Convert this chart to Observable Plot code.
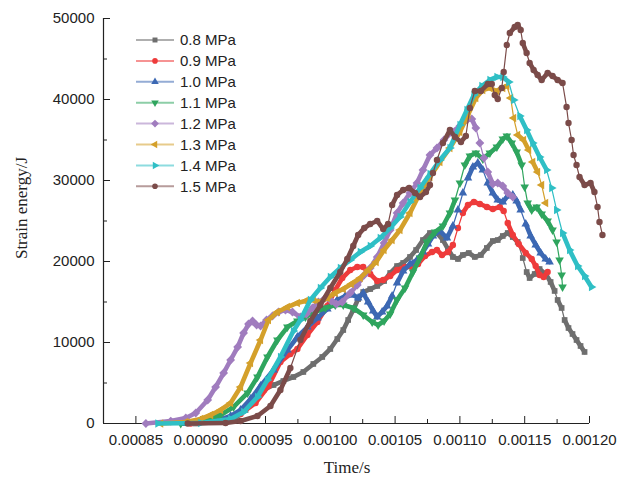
<!DOCTYPE html>
<html><head><meta charset="utf-8">
<script src="https://cdn.jsdelivr.net/npm/d3@7"></script>
<script src="https://cdn.jsdelivr.net/npm/@observablehq/plot@0.6"></script>
<style>
body{margin:0;background:#fff;}
#wrap{position:relative;width:634px;height:477px;}
#overlay{position:absolute;left:0;top:0;pointer-events:none;}
</style></head><body><div id="wrap"></div>
<script>
// ---- data (time in s, strain energy in J) ----
const names = ["0.8 MPa","0.9 MPa","1.0 MPa","1.1 MPa","1.2 MPa","1.3 MPa","1.4 MPa","1.5 MPa"];
const colors = ["#6e6e6e","#ee3b3b","#3c68b3","#2fa55e","#a07cbe","#d4a02b","#2fbfc5","#7b4b49"];
const xTicks = [0.00085,0.0009,0.00095,0.001,0.00105,0.0011,0.00115,0.0012];
const xMinor = [0.000875,0.000925,0.000975,0.001025,0.001075,0.001125,0.001175];
const yTicks = [0,10000,20000,30000,40000,50000];
const yMinor = [5000,15000,25000,35000,45000];

const t08 = [0.0008962,0.0009154,0.0009269,0.0009346,0.0009423,0.0009485,0.0009562,0.0009638,0.0009715,0.0009792,0.0009869,0.0009938,0.001,0.0010054,0.00101,0.0010138,0.0010177,0.0010215,0.0010254,0.0010308,0.0010362,0.0010415,0.0010462,0.0010515,0.0010562,0.0010615,0.0010662,0.0010715,0.0010769,0.0010823,0.0010869,0.0010908,0.0010946,0.0010985,0.0011023,0.0011069,0.0011115,0.0011162,0.0011208,0.0011254,0.0011292,0.0011331,0.0011369,0.0011408,0.0011446,0.0011485,0.0011515,0.0011538,0.0011577,0.0011615,0.0011662,0.00117,0.0011731,0.0011754,0.0011785,0.0011808,0.0011838,0.0011869,0.00119,0.0011931,0.0011962];
const v08 = [0,190,680,1670,3150,4140,4750,5250,5740,6360,7350,8210,9200,10430,11540,12780,14010,15370,16230,16600,16980,17590,18580,19440,19820,20560,21420,22650,23520,23520,22650,21540,20560,20310,20800,21050,20560,20800,21670,22530,22650,23150,23520,23020,22410,20430,18700,17960,18460,19070,18460,17470,16360,15250,14260,12780,11790,11050,10310,9570,8830];

const t09 = [0.0008923,0.0009154,0.0009308,0.0009423,0.0009523,0.0009615,0.0009692,0.0009746,0.0009823,0.00099,0.0009977,0.0010038,0.0010092,0.0010154,0.0010208,0.0010254,0.0010308,0.0010362,0.0010408,0.0010462,0.0010515,0.0010577,0.0010631,0.0010677,0.0010731,0.0010785,0.0010823,0.0010862,0.0010908,0.0010946,0.0010985,0.0011023,0.0011062,0.0011108,0.0011154,0.0011208,0.0011254,0.0011308,0.0011338,0.0011369,0.0011408,0.0011454,0.0011508,0.0011554,0.0011585,0.0011615,0.0011646,0.0011677];
const v09 = [0,300,1170,2530,4630,7590,8580,9200,10930,12530,14510,16480,17960,18950,19320,19320,18460,17590,17720,18210,18950,19320,19320,19690,20680,21170,21420,20800,21170,22040,24140,25990,26980,27350,27100,26730,26480,26730,26230,24750,23270,22160,21050,20310,19440,18330,18090,18700];

const t10 = [0.0008885,0.0009115,0.0009231,0.0009308,0.0009385,0.0009462,0.0009562,0.0009669,0.0009746,0.0009823,0.00099,0.0009977,0.0010054,0.0010115,0.0010177,0.0010215,0.0010254,0.0010292,0.0010331,0.0010362,0.00104,0.0010438,0.0010477,0.0010515,0.0010562,0.0010615,0.0010669,0.0010715,0.0010754,0.0010792,0.0010846,0.00109,0.0010946,0.0010985,0.0011023,0.0011062,0.00111,0.0011138,0.0011177,0.0011215,0.0011254,0.0011292,0.0011331,0.0011369,0.0011408,0.0011438,0.0011469,0.0011508,0.0011546,0.0011585,0.0011623,0.0011662,0.0011692];
const v10 = [0,300,930,1670,3020,4630,6600,9070,10680,11910,13030,14130,15250,15740,15860,15490,16110,15000,13890,13150,13770,14510,15740,17350,18830,19690,20190,21170,22160,23150,23770,22900,24380,26360,28460,30310,31670,32160,31300,29690,28460,27590,27350,28090,28210,27470,26360,24630,23150,22040,21050,20310,19940];

const t11 = [0.0008846,0.0009023,0.0009154,0.0009254,0.0009362,0.0009438,0.0009515,0.0009592,0.0009669,0.0009746,0.0009808,0.0009885,0.0009962,0.0010038,0.00101,0.0010177,0.0010254,0.0010323,0.0010369,0.0010415,0.0010462,0.0010515,0.0010577,0.0010638,0.0010692,0.0010746,0.0010808,0.0010869,0.0010923,0.0010962,0.0011,0.0011038,0.0011077,0.0011123,0.0011177,0.0011231,0.0011285,0.0011331,0.0011362,0.00114,0.0011438,0.0011477,0.00115,0.0011523,0.0011554,0.0011592,0.0011631,0.0011677,0.0011715,0.0011746,0.0011769,0.0011785,0.0011792];
const v11 = [0,430,1050,2040,3770,5740,8210,10310,11910,12650,13150,13770,14260,14630,14630,14260,13400,12530,12160,12650,13520,15250,16730,18700,20430,22410,23640,24380,25990,27590,29690,31910,33030,33400,32650,33400,34130,35120,35490,34630,33520,31910,29200,27220,26360,26730,25870,25000,23890,22410,20190,18330,16850];

const t12 = [0.0008577,0.0008769,0.0008885,0.0008962,0.0009054,0.0009115,0.0009177,0.0009231,0.0009285,0.0009331,0.0009369,0.00094,0.0009431,0.0009462,0.0009508,0.0009554,0.00096,0.0009654,0.0009708,0.0009769,0.0009815,0.0009862,0.0009908,0.0009962,0.0010008,0.0010046,0.0010092,0.0010154,0.0010208,0.0010262,0.0010308,0.0010362,0.0010415,0.0010462,0.0010515,0.0010562,0.0010615,0.0010669,0.0010715,0.0010769,0.0010823,0.0010877,0.0010938,0.0011,0.0011054,0.0011092,0.0011123,0.0011154,0.0011185,0.0011215,0.0011254,0.0011292,0.0011331,0.0011369,0.0011408];
const v12 = [0,300,680,1300,2900,4500,6230,7840,9440,11170,12280,12650,12160,12040,12780,13270,13770,14010,13770,13150,13520,14260,15000,15490,15120,14750,15000,16110,17100,18330,19200,20560,22280,23890,25990,27220,28460,29690,31300,33150,34010,35000,35990,36730,37470,37590,36480,34630,32780,31050,29570,29690,29320,28460,27960];

const t13 = [0.0008692,0.0008885,0.0009,0.0009077,0.0009154,0.0009231,0.0009308,0.0009385,0.0009462,0.0009523,0.0009592,0.0009669,0.0009746,0.0009808,0.0009869,0.0009923,0.0009977,0.0010038,0.00101,0.0010162,0.0010231,0.0010292,0.0010354,0.0010415,0.0010477,0.0010538,0.0010615,0.0010692,0.0010769,0.0010846,0.0010923,0.0011,0.0011062,0.0011123,0.0011177,0.0011231,0.0011285,0.0011331,0.0011362,0.0011392,0.0011415,0.0011446,0.0011492,0.0011531,0.0011562,0.00116,0.0011631,0.0011662];
const v13 = [0,190,560,1050,1670,2530,4510,7470,10310,12780,13770,14380,14880,15120,15250,15000,15490,16110,16600,17220,17960,18950,19940,21420,22650,23890,25990,28460,30430,32290,34010,35990,38080,40180,41170,41420,41050,41420,41670,40180,37710,35620,35000,33770,32290,31050,29440,27220];

const t14 = [0.0008669,0.0009,0.0009231,0.0009331,0.0009438,0.0009515,0.0009615,0.0009715,0.0009769,0.0009846,0.0009923,0.001,0.0010077,0.0010154,0.0010231,0.0010308,0.0010385,0.0010462,0.0010538,0.0010615,0.0010692,0.0010769,0.0010846,0.0010923,0.0011,0.0011054,0.0011108,0.0011169,0.0011231,0.0011285,0.0011331,0.0011377,0.0011415,0.0011462,0.0011515,0.0011562,0.0011615,0.0011669,0.0011708,0.0011746,0.0011792,0.0011846,0.0011908,0.0011962,0.0012015];
const v14 = [0,60,560,1420,3270,5370,8210,11420,12780,15250,16730,18090,19200,20190,21170,21910,22900,24140,25500,27350,29070,30800,32530,34010,36850,38700,40550,41670,42410,42780,42780,42160,39940,37960,36230,34630,32900,31300,29070,26360,23520,21420,19440,18210,16850];

const t15 = [0.00089,0.0009192,0.0009308,0.0009438,0.0009538,0.0009615,0.0009692,0.0009769,0.0009846,0.0009923,0.001,0.0010077,0.0010131,0.0010177,0.0010215,0.0010262,0.0010308,0.0010362,0.0010408,0.0010446,0.0010477,0.0010515,0.0010562,0.0010608,0.0010654,0.0010692,0.0010738,0.0010769,0.0010792,0.0010823,0.0010869,0.0010923,0.0010962,0.0011008,0.0011046,0.0011077,0.0011115,0.0011162,0.0011215,0.0011246,0.0011269,0.0011292,0.0011323,0.0011338,0.0011362,0.0011385,0.0011423,0.0011446,0.0011469,0.0011485,0.0011515,0.0011538,0.0011569,0.00116,0.0011631,0.0011677,0.0011715,0.0011754,0.0011792,0.0011823,0.0011838,0.0011862,0.0011877,0.00119,0.0011923,0.0011962,0.0012008,0.0012038,0.0012062,0.0012077,0.00121];
const v15 = [0,60,300,930,2160,4140,6850,10310,12650,14630,16730,18700,20310,21910,23270,24140,24630,25000,24010,24630,26970,28210,28830,29070,28460,27960,28580,29440,30920,32530,34630,36230,35370,34750,35490,38950,41050,41050,41910,41910,40550,40060,41420,43390,46730,48210,48950,49200,48580,46980,45740,44510,43650,43020,42410,43270,42900,42410,42040,39080,37100,35000,33150,31910,30430,29440,29690,28580,26730,24880,23270];

// ---- marker shapes ----
function triangle(angleDeg){
  return {draw(ctx, size){
    const s = Math.sqrt(4*size/Math.sqrt(3)), R = s/Math.sqrt(3);
    for (let i=0;i<3;i++){ const a=(angleDeg+i*120)*Math.PI/180; const x=R*Math.cos(a), y=R*Math.sin(a); if(i) ctx.lineTo(x,y); else ctx.moveTo(x,y); }
    ctx.closePath();
  }};
}
const diamond = {draw(ctx,size){ const r=Math.sqrt(size/2)*1.1; ctx.moveTo(0,-r); ctx.lineTo(r,0); ctx.lineTo(0,r); ctx.lineTo(-r,0); ctx.closePath(); }};
const symbols = [d3.symbolSquare, d3.symbolCircle, triangle(-90), triangle(90), diamond, triangle(180), triangle(0), d3.symbolCircle];

const W = 634, H = 477, ML = 103, MR = 45, MT = 18, MB = 54;
const xDom = [0.000825, 0.0012], yDom = [0, 50000];
const pxPerS = (W - ML - MR) / (xDom[1] - xDom[0]);
const pxPerJ = (H - MT - MB) / (yDom[1] - yDom[0]);

const T = [t08,t09,t10,t11,t12,t13,t14,t15];
const V = [v08,v09,v10,v11,v12,v13,v14,v15];
const series = T.map((ts,i) => ts.slice(0, Math.min(ts.length, V[i].length)).map((t,j) => ({t, v: V[i][j], k: names[i]})));

const marks = [];
series.forEach((rows,i) => {
  // consecutive segments: dense-marker band where the curve is flat-ish, thin connector where steep
  const segs = d3.pairs(rows).map(([a,b]) => {
    const slope = Math.abs((b.v - a.v) * pxPerJ) / Math.max(1e-9, (b.t - a.t) * pxPerS);
    return {t1: a.t, v1: a.v, t2: b.t, v2: b.v, w: slope > 2.6 ? 1.2 : 4.6};
  });
  marks.push(Plot.link(segs, {x1:"t1", y1:"v1", x2:"t2", y2:"v2", stroke: colors[i], strokeWidth: "w", strokeLinecap:"round"}));
  marks.push(Plot.dot(rows, {x:"t", y:"v", symbol: symbols[i], r: 3.2, fill: colors[i], stroke: "none"}));
});

const chart = Plot.plot({
  width: W, height: H,
  marginLeft: ML, marginRight: MR, marginTop: MT, marginBottom: MB,
  style: {fontFamily: "'Liberation Sans', Arial, sans-serif", fontSize: "15px", color: "#222", background: "#fff"},
  x: {domain: xDom},
  y: {domain: yDom},
  marks: [
    Plot.axisX(xTicks, {tickSize: 0, tickPadding: 11, tickFormat: d3.format(".5f"), label: null, fill: "#222"}),
    Plot.axisX(xTicks, {tickSize: -7, tickFormat: () => "", label: null, stroke: "#222"}),
    Plot.axisX(xMinor, {tickSize: -4, tickFormat: () => "", label: null, stroke: "#222"}),
    Plot.axisY(yTicks, {tickSize: 0, tickPadding: 9, tickFormat: d3.format("d"), label: null, fill: "#222"}),
    Plot.axisY(yTicks, {tickSize: -7, tickFormat: () => "", label: null, stroke: "#222"}),
    Plot.axisY(yMinor, {tickSize: -4, tickFormat: () => "", label: null, stroke: "#222"}),
    Plot.ruleY([0], {x1: xDom[0], x2: xDom[1], stroke: "#222", strokeWidth: 1.2}),
    Plot.ruleX([xDom[0]], {y1: yDom[0], y2: yDom[1], stroke: "#222", strokeWidth: 1.2}),
    ...marks
  ]
});
const wrap = document.getElementById("wrap");
wrap.appendChild(chart);

// ---- overlay: legend + axis titles ----
const ov = d3.select(wrap).append("svg").attr("id","overlay").attr("width",W).attr("height",H);
names.forEach((n,i) => {
  const y = 40 + i*20.9;
  ov.append("line").attr("x1",136).attr("x2",174).attr("y1",y).attr("y2",y)
    .attr("stroke",colors[i]).attr("stroke-opacity",0.55).attr("stroke-width",2);
  ov.append("path").attr("transform",`translate(155,${y})`)
    .attr("d", d3.symbol(symbols[i], 2.8*2.8*Math.PI)()).attr("fill",colors[i]);
  ov.append("text").attr("x",180).attr("y",y).attr("dy","0.36em")
    .attr("font-family","'Liberation Sans', Arial, sans-serif").attr("font-size",15).attr("fill","#222").text(n);
});
ov.append("text").attr("x",347).attr("y",473).attr("text-anchor","middle")
  .attr("font-family","'Liberation Serif', 'Times New Roman', serif").attr("font-size",17).attr("fill","#222").text("Time/s");
ov.append("text").attr("transform","translate(27,208) rotate(-90)").attr("text-anchor","middle")
  .attr("font-family","'Liberation Serif', 'Times New Roman', serif").attr("font-size",17).attr("fill","#222").text("Strain energy/J");
</script></body></html>
